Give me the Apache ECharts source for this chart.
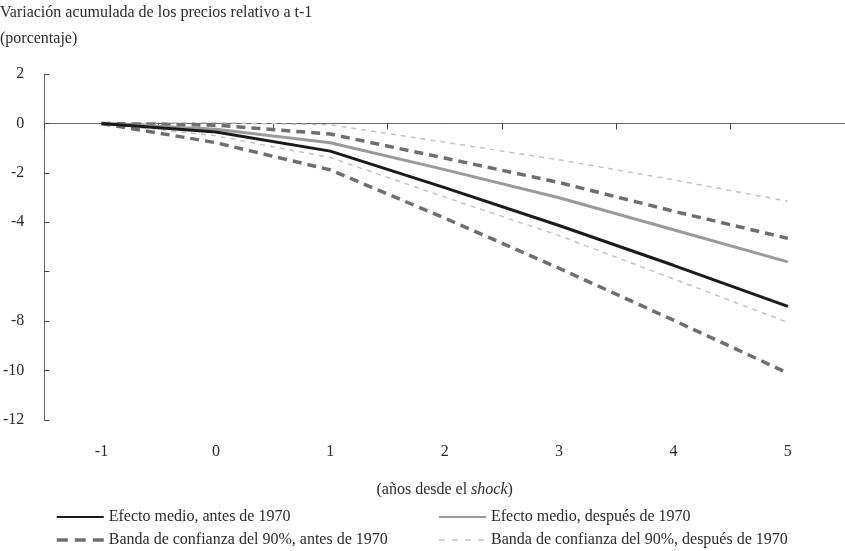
<!DOCTYPE html>
<html>
<head>
<meta charset="utf-8">
<script src="https://cdn.jsdelivr.net/npm/echarts@6/dist/echarts.min.js"></script>
<style>html,body{margin:0;padding:0;background:#fff}#c{width:845px;height:551px}</style>
</head>
<body>
<div id="c"></div>
<script>
const categories = ['-1', '0', '1', '2', '3', '4', '5'];
const yTickValues = [2, 0, -2, -4, -6, -8, -10, -12];
const hiddenYLabels = [-6];
const meanBefore = [0, -0.35, -1.12, -2.6, -4.13, -5.74, -7.4];
const meanAfter = [0, -0.24, -0.78, -1.87, -3.01, -4.3, -5.6];
const bandBeforeUpper = [0, -0.07, -0.43, -1.4, -2.39, -3.55, -4.65];
const bandBeforeLower = [0, -0.78, -1.88, -3.83, -5.86, -7.96, -10.1];
const bandAfterUpper = [0, 0.03, -0.06, -0.76, -1.47, -2.28, -3.15];
const bandAfterLower = [0, -0.5, -1.38, -2.98, -4.54, -6.29, -8.05];

const names = {
  mb: 'Efecto medio, antes de 1970',
  ma: 'Efecto medio, después de 1970',
  bb: 'Banda de confianza del 90%, antes de 1970',
  ba: 'Banda de confianza del 90%, después de 1970'
};
const FONT = "'Liberation Serif', 'DejaVu Serif', serif";
const TXT = '#2b2b2b';
const FS = 16;

const chart = echarts.init(document.getElementById('c'), null, {renderer: 'canvas'});

function lineSeries(name, data, color, width, dash) {
  return {
    name: name, type: 'line', data: data, xAxisIndex: 0, yAxisIndex: 0,
    symbol: 'none', showSymbol: false, smooth: false, animation: false,
    lineStyle: {color: color, width: width, type: dash || 'solid', cap: 'butt'},
    itemStyle: {color: color},
    emphasis: {disabled: true}
  };
}

function legendBlock(items, left) {
  return {
    data: items, orient: 'vertical', left: left, top: 509, padding: 0,
    itemWidth: 47, itemHeight: 12, itemGap: 7, selectedMode: false,
    itemStyle: {opacity: 0},
    textStyle: {fontFamily: FONT, fontSize: FS, color: TXT, lineHeight: 16}
  };
}

chart.setOption({
  backgroundColor: '#fff',
  animation: false,
  textStyle: {fontFamily: FONT},
  title: {
    text: 'Variación acumulada de los precios relativo a t-1\n(porcentaje)',
    left: 0, top: 0, padding: 0,
    textStyle: {fontFamily: FONT, fontSize: FS, fontWeight: 'normal', color: TXT, lineHeight: 26}
  },
  grid: {left: 42, right: -3, top: 74, height: 346, containLabel: false},
  xAxis: [
    {
      type: 'category', data: categories, position: 'bottom', boundaryGap: true,
      axisLine: {show: false, onZero: false}, axisTick: {show: false}, splitLine: {show: false},
      axisLabel: {fontFamily: FONT, fontSize: FS, color: TXT, margin: 24},
      name: '(años desde el {i|shock})', nameLocation: 'middle', nameGap: 62,
      nameTextStyle: {fontFamily: FONT, fontSize: FS, color: TXT,
        rich: {i: {fontFamily: FONT, fontSize: FS, color: TXT, fontStyle: 'italic'}}}
    },
    {
      type: 'category', data: categories, position: 'top', boundaryGap: true,
      axisLine: {show: true, onZero: true, lineStyle: {color: '#666', width: 1}},
      axisTick: {show: true, inside: true, length: 6, lineStyle: {color: '#444', width: 1}},
      axisLabel: {show: false}, splitLine: {show: false}
    }
  ],
  yAxis: {
    type: 'value', min: -12, max: 2, interval: 2,
    axisLine: {show: true, lineStyle: {color: '#666', width: 1}},
    axisTick: {show: true, inside: true, length: 5, lineStyle: {color: '#444', width: 1}},
    splitLine: {show: false},
    axisLabel: {
      fontFamily: FONT, fontSize: FS, color: TXT, margin: 20,
      formatter: function (v) { return (yTickValues.indexOf(v) >= 0 && hiddenYLabels.indexOf(v) < 0) ? String(v) : ''; }
    }
  },
  legend: [
    legendBlock([
      {name: names.mb},
      {name: names.bb, lineStyle: {type: [11, 7], width: 3.5, color: '#6e6e6e'}}
    ], 55),
    legendBlock([
      {name: names.ma},
      {name: names.ba, lineStyle: {type: [6, 7], width: 1.5, color: '#c4c4c4'}}
    ], 438)
  ],
  series: [
    lineSeries(names.ba, bandAfterUpper, '#c4c4c4', 1.5, [5, 5]),
    lineSeries(names.ba, bandAfterLower, '#c4c4c4', 1.5, [5, 5]),
    lineSeries(names.bb, bandBeforeUpper, '#6e6e6e', 3.5, [9, 6]),
    lineSeries(names.bb, bandBeforeLower, '#6e6e6e', 3.5, [9, 6]),
    lineSeries(names.ma, meanAfter, '#9a9a9a', 3),
    lineSeries(names.mb, meanBefore, '#1a1a1a', 3)
  ]
});
</script>
</body>
</html>
